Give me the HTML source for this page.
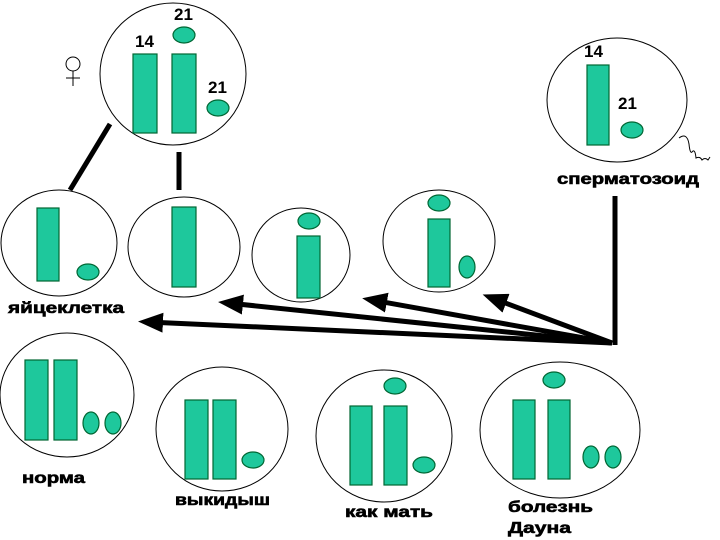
<!DOCTYPE html>
<html><head><meta charset="utf-8"><style>
html,body{margin:0;padding:0;background:#fff}
svg{display:block}
text{font-family:"Liberation Sans",Arial,sans-serif;font-weight:bold;fill:#000}
.t{stroke:#000;stroke-width:0.6}
.c{fill:none;stroke:#000;stroke-width:1}
.g{fill:#1ec89c;stroke:#063;stroke-width:1.2}
</style></head><body>
<svg width="720" height="540" viewBox="0 0 720 540">
<defs><marker id="ah" markerWidth="5" markerHeight="4" refX="3" refY="2" orient="auto" markerUnits="strokeWidth"><path d="M5,2 L0,0 L0,4 Z" fill="#000"/></marker></defs>
<!-- mother -->
<ellipse class="c" cx="173" cy="74" rx="73" ry="71"/>
<rect class="g" x="133" y="54" width="24" height="79"/>
<rect class="g" x="172" y="54" width="24" height="79"/>
<ellipse class="g" cx="184" cy="35" rx="11" ry="8"/>
<ellipse class="g" cx="218" cy="108" rx="11" ry="8"/>
<text x="174" y="20" font-size="17">21</text>
<text x="135" y="47" font-size="17">14</text>
<text x="208" y="93" font-size="17">21</text>
<circle cx="73" cy="64" r="7" fill="none" stroke="#000" stroke-width="1"/>
<line x1="73" y1="71" x2="73" y2="86" stroke="#000" stroke-width="1"/>
<line x1="66" y1="78" x2="80" y2="78" stroke="#000" stroke-width="1"/>
<line x1="110" y1="124" x2="70" y2="190" stroke="#000" stroke-width="5"/>
<line x1="179" y1="152" x2="179" y2="190" stroke="#000" stroke-width="5"/>
<!-- sperm -->
<ellipse class="c" cx="617" cy="100" rx="70" ry="62"/>
<rect class="g" x="587" y="65" width="22" height="80"/>
<ellipse class="g" cx="632" cy="130" rx="11" ry="8"/>
<text x="584" y="57" font-size="17">14</text>
<text x="618" y="109" font-size="17">21</text>
<path d="M679,138 q8,-6 10,6 q1,10 3,8 q3,-4 4,6 q4,-2 6,2 q3,-3 6,0 l2,-3" fill="none" stroke="#000" stroke-width="1"/>
<text class="t" x="557" y="184" font-size="16" textLength="142" lengthAdjust="spacingAndGlyphs">сперматозоид</text>
<line x1="615" y1="196" x2="615" y2="345" stroke="#000" stroke-width="5"/>
<!-- row 2 -->
<ellipse class="c" cx="59" cy="243" rx="58" ry="53"/>
<rect class="g" x="37" y="208" width="22" height="73"/>
<ellipse class="g" cx="88" cy="272" rx="11" ry="8"/>
<ellipse class="c" cx="184" cy="247" rx="56" ry="50"/>
<rect class="g" x="172" y="207" width="24" height="80"/>
<ellipse class="c" cx="301" cy="255" rx="49" ry="47"/>
<ellipse class="g" cx="309" cy="221" rx="11" ry="8"/>
<rect class="g" x="297" y="236" width="23" height="62"/>
<ellipse class="c" cx="439" cy="241" rx="56" ry="51"/>
<ellipse class="g" cx="439" cy="203" rx="11" ry="8"/>
<rect class="g" x="428" y="219" width="22" height="68"/>
<ellipse class="g" cx="467" cy="267" rx="8" ry="11"/>
<text class="t" x="8" y="313" font-size="16" textLength="116" lengthAdjust="spacingAndGlyphs">яйцеклетка</text>
<!-- arrows -->
<g stroke="#000" stroke-width="5" marker-end="url(#ah)">
<line x1="612" y1="343" x2="492" y2="298"/>
<line x1="612" y1="343" x2="372" y2="300"/>
<line x1="612" y1="343" x2="228" y2="303"/>
<line x1="612" y1="343" x2="148" y2="322"/>
</g>
<!-- bottom -->
<ellipse class="c" cx="67" cy="395" rx="67" ry="62"/>
<rect class="g" x="25" y="360" width="23" height="80"/>
<rect class="g" x="54" y="360" width="23" height="80"/>
<ellipse class="g" cx="91" cy="423" rx="8" ry="11"/>
<ellipse class="g" cx="113" cy="423" rx="8" ry="11"/>
<text class="t" x="22" y="483" font-size="16" textLength="63" lengthAdjust="spacingAndGlyphs">норма</text>
<ellipse class="c" cx="222" cy="429" rx="66" ry="62"/>
<rect class="g" x="185" y="400" width="23" height="79"/>
<rect class="g" x="213" y="400" width="23" height="79"/>
<ellipse class="g" cx="253" cy="460" rx="11" ry="8"/>
<text class="t" x="175" y="505" font-size="16" textLength="95" lengthAdjust="spacingAndGlyphs">выкидыш</text>
<ellipse class="c" cx="384" cy="436" rx="68" ry="66"/>
<rect class="g" x="350" y="406" width="22" height="79"/>
<rect class="g" x="384" y="406" width="23" height="79"/>
<ellipse class="g" cx="395" cy="386" rx="11" ry="8"/>
<ellipse class="g" cx="424" cy="465" rx="11" ry="8"/>
<text class="t" x="345" y="517" font-size="16" textLength="88" lengthAdjust="spacingAndGlyphs">как мать</text>
<ellipse class="c" cx="560" cy="430" rx="80" ry="68"/>
<rect class="g" x="513" y="400" width="22" height="79"/>
<rect class="g" x="548" y="400" width="22" height="79"/>
<ellipse class="g" cx="554" cy="380" rx="11" ry="8"/>
<ellipse class="g" cx="591" cy="457" rx="8" ry="11"/>
<ellipse class="g" cx="613" cy="457" rx="8" ry="11"/>
<text class="t" x="508" y="512" font-size="16" textLength="85" lengthAdjust="spacingAndGlyphs">болезнь</text>
<text class="t" x="508" y="533" font-size="16" textLength="63" lengthAdjust="spacingAndGlyphs">Дауна</text>
</svg>
</body></html>
